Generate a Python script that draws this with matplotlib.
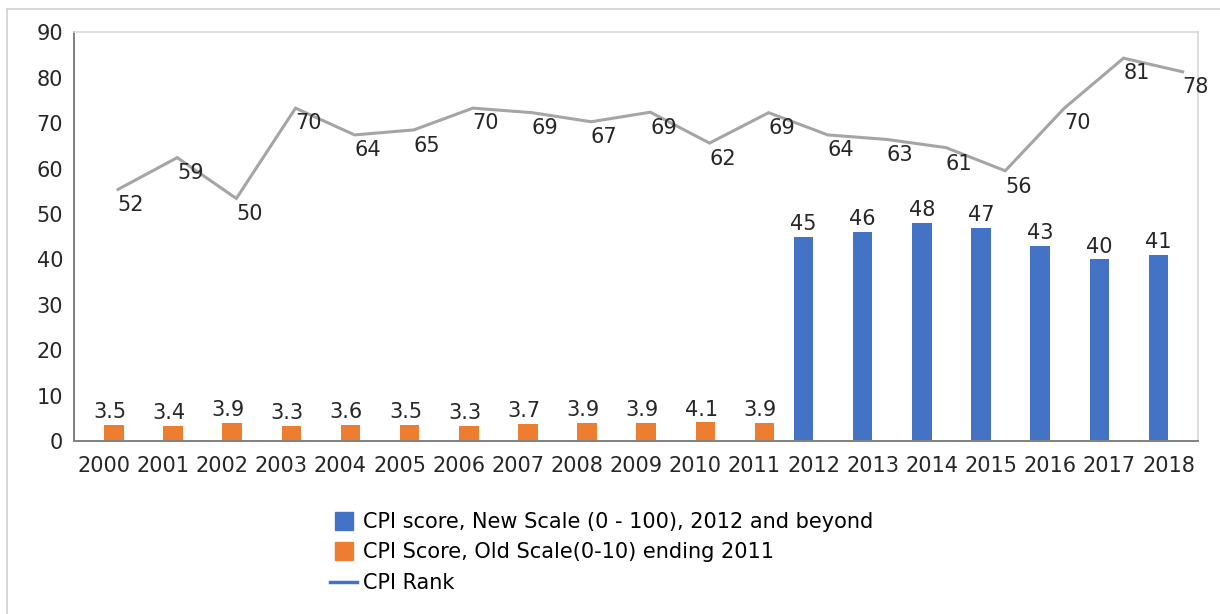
import numpy as np
import matplotlib
matplotlib.use('Agg')
import matplotlib.pyplot as plt
from matplotlib.lines import Line2D

plt.rcParams['font.family'] = ['DejaVu Sans']

years = [str(y) for y in range(2000, 2019)]
old_years = years[:12]   # 2000 - 2011
new_years = years[12:]   # 2012 - 2018
old_score = [3.5, 3.4, 3.9, 3.3, 3.6, 3.5, 3.3, 3.7, 3.9, 3.9, 4.1, 3.9]
new_score = [45, 46, 48, 47, 43, 40, 41]
rank = [52, 59, 50, 70, 64, 65, 70, 69, 67, 69, 62, 69, 64, 63, 61, 56, 70, 81, 78]
# where the rank line is actually drawn in the picture (sits a bit above the labels)
rank_line = [55.4, 62.4, 53.4, 73.3, 67.4, 68.5, 73.3, 72.3, 70.3, 72.4,
             65.6, 72.3, 67.4, 66.4, 64.6, 59.5, 73.3, 84.3, 81.3]

blue = '#4472C4'
orange = '#ED7D31'
grey = '#A5A5A5'
fs = 15

fig = plt.figure(figsize=(12.2, 6.14), dpi=100)
ax = fig.add_axes([0.0609, 0.2818, 0.9211, 0.6656])

x = np.arange(len(years))
x_old = x[:len(old_years)]
x_new = x[len(old_years):]

b_new = ax.bar(x_new - 0.17, new_score, width=0.33, color=blue)
b_old = ax.bar(x_old + 0.17, old_score, width=0.33, color=orange)
ax.plot(x + 0.24, rank_line, color=grey, lw=2.2, solid_joinstyle='miter')

for xi, v in zip(x_new - 0.17, new_score):
    ax.annotate(str(v), (xi, v), xytext=(0, 2), textcoords='offset points',
                ha='center', va='bottom', fontsize=fs, color='#262626')
for xi, v in zip(x_old + 0.17, old_score):
    ax.annotate(str(v), (xi, v), xytext=(-3, 2), textcoords='offset points',
                ha='center', va='bottom', fontsize=fs, color='#262626')
for xi, v in zip(x, rank):
    ax.text(xi + 0.46, v, str(v), ha='center', va='center',
            fontsize=fs, color='#262626')

ax.set_xlim(-0.5, len(years) - 0.5)
ax.set_ylim(0, 90)
ax.set_yticks(range(0, 91, 10))
ax.set_xticks(x)
ax.set_xticklabels(years)
ax.tick_params(axis='both', length=0, labelsize=fs, colors='#262626')
ax.tick_params(axis='x', pad=11)
ax.tick_params(axis='y', pad=8)

for s in ['left', 'bottom']:
    ax.spines[s].set_color('#808080')
    ax.spines[s].set_linewidth(1.4)
for s in ['top', 'right']:
    ax.spines[s].set_color('#D9D9D9')
    ax.spines[s].set_linewidth(1.2)

handles = [
    Line2D([], [], marker='s', ls='none', color=blue, markersize=13.5),
    Line2D([], [], marker='s', ls='none', color=orange, markersize=13.5),
    Line2D([], [], color=blue, lw=2.5),
]
labels = ['CPI score, New Scale (0 - 100), 2012 and beyond',
          'CPI Score, Old Scale(0-10) ending 2011',
          'CPI Rank']
fig.legend(handles, labels, loc='upper left', bbox_to_anchor=(0.2705, 0.166),
           frameon=False, fontsize=fs, handlelength=1.3, handletextpad=0.3,
           labelspacing=0.5, borderpad=0, borderaxespad=0)

# outer chart border (top and left visible)
fig.add_artist(Line2D([7 / 1220, 1], [1 - 9 / 614, 1 - 9 / 614],
                      transform=fig.transFigure, color='#D0D0D0', lw=1.2))
fig.add_artist(Line2D([7 / 1220, 7 / 1220], [0, 1 - 9 / 614],
                      transform=fig.transFigure, color='#D0D0D0', lw=1.2))

fig.savefig('out.png', dpi=100)
